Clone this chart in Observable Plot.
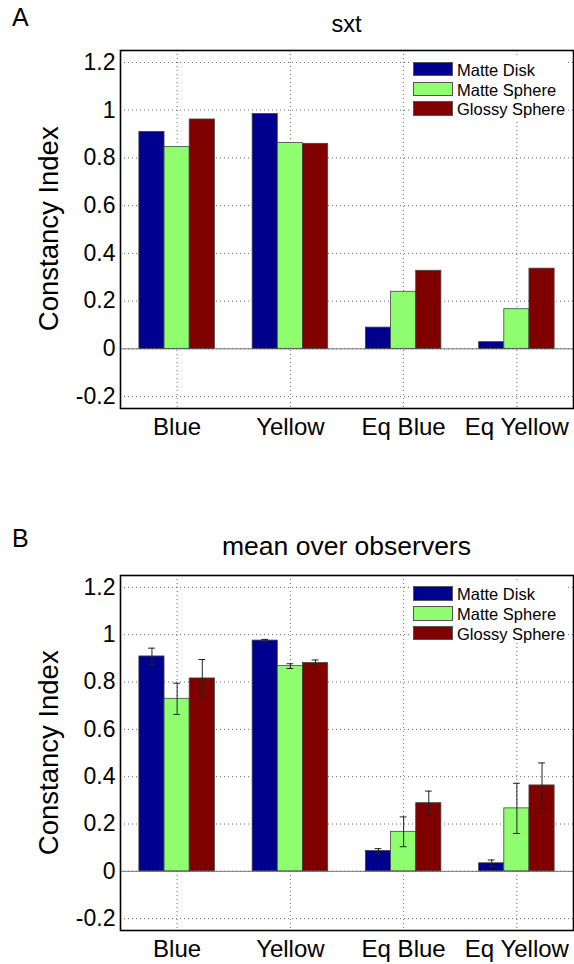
<!DOCTYPE html>
<html><head><meta charset="utf-8">
<script src="https://cdn.jsdelivr.net/npm/d3@7"></script>
<script src="https://cdn.jsdelivr.net/npm/@observablehq/plot@0.6"></script>
<style>
html,body{margin:0;padding:0;background:#fff;overflow:hidden}
#root{position:relative;width:574px;height:964px;font-family:"Liberation Sans",Arial,Helvetica,sans-serif;color:#000}
.abs{position:absolute;white-space:nowrap;line-height:1}
.plot{position:absolute;left:0}
.patch{position:absolute;box-sizing:border-box;border:1px solid #555}
</style></head><body><div id="root"></div>
<script>
// ---- data ----
const categories = ["Blue", "Yellow", "Eq Blue", "Eq Yellow"];
const series = ["Matte Disk", "Matte Sphere", "Glossy Sphere"];
const seriesColors = ["#00008f", "#8fff70", "#800000"];
const yTicks = [-0.2, 0, 0.2, 0.4, 0.6, 0.8, 1, 1.2];

// Panel A: sxt
const sxtMatteDisk    = [0.909, 0.984, 0.089, 0.028];
const sxtMatteSphere  = [0.846, 0.862, 0.239, 0.166];
const sxtGlossySphere = [0.961, 0.859, 0.327, 0.336];

// Panel B: mean over observers (with error bars)
const meanMatteDisk    = [0.908, 0.975, 0.086, 0.034];
const meanMatteSphere  = [0.729, 0.867, 0.167, 0.266];
const meanGlossySphere = [0.815, 0.880, 0.288, 0.363];
const errMatteDisk     = [0.035, 0.005, 0.010, 0.014];
const errMatteSphere   = [0.066, 0.010, 0.063, 0.106];
const errGlossySphere  = [0.080, 0.013, 0.051, 0.095];

// ---- helpers ----
const root = document.getElementById("root");
function addText(txt, left, top, fs, extra) {
  const d = document.createElement("div");
  d.className = "abs";
  d.textContent = txt;
  d.style.left = left + "px";
  d.style.top = top + "px";
  d.style.fontSize = fs + "px";
  if (extra) Object.assign(d.style, extra);
  root.appendChild(d);
  return d;
}
const BASE = 0.8465; // baseline offset (em) for line-height 1

function buildRows(valueArrays, errArrays) {
  const rows = [];
  const bw = 2 / 9; // MATLAB grouped bar width for 3 series
  valueArrays.forEach((arr, k) => {
    arr.forEach((v, i) => {
      const xc = i + 1 + (k - 1) * bw;
      rows.push({
        category: categories[i], series: series[k], value: v,
        err: errArrays ? errArrays[k][i] : 0,
        xc, x1: xc - bw / 2, x2: xc + bw / 2
      });
    });
  });
  return rows;
}

function panel(opts) {
  const {rows, withErr, svgTop, height, marginBottom, title, titleBaseline, titleSize, letter, letterBaseline, legendCenters} = opts;
  const marginTop = 10, marginLeft = 120, marginRight = 1;
  const capW = 0.03;
  const marks = [
    Plot.gridY(yTicks, {stroke: "#444", strokeOpacity: 1, strokeWidth: 0.8, strokeDasharray: "1,3"}),
    Plot.gridX([1, 2, 3, 4], {stroke: "#444", strokeOpacity: 1, strokeWidth: 0.8, strokeDasharray: "1,3"}),
    Plot.ruleY([0], {stroke: "#777", strokeWidth: 1}),
    Plot.rect(rows, {x1: "x1", x2: "x2", y1: () => 0, y2: "value", fill: "series", stroke: "#444", strokeWidth: 0.8})
  ];
  if (withErr) {
    marks.push(
      Plot.ruleX(rows, {x: "xc", y1: d => d.value - d.err, y2: d => d.value + d.err, stroke: "#222", strokeWidth: 1}),
      Plot.ruleY(rows, {y: d => d.value + d.err, x1: d => d.xc - capW, x2: d => d.xc + capW, stroke: "#222", strokeWidth: 1}),
      Plot.ruleY(rows, {y: d => d.value - d.err, x1: d => d.xc - capW, x2: d => d.xc + capW, stroke: "#222", strokeWidth: 1})
    );
  }
  marks.push(
    Plot.frame({stroke: "#000", strokeWidth: 1.6}),
    Plot.axisY(yTicks, {tickSize: 0, tickPadding: 5, fontSize: 23, label: null,
      tickFormat: d => String(+d.toFixed(1))}),
    Plot.axisX([1, 2, 3, 4], {tickSize: 0, tickPadding: 9, fontSize: 24, label: null,
      tickFormat: d => categories[d - 1]})
  );
  const chart = Plot.plot({
    width: 574, height, marginTop, marginBottom, marginLeft, marginRight,
    x: {type: "linear", domain: [0.5, 4.5]},
    y: {type: "linear", domain: [-0.25, 1.25]},
    color: {type: "ordinal", domain: series, range: seriesColors},
    style: {fontFamily: '"Liberation Sans", Arial, sans-serif', color: "#000", background: "transparent", overflow: "visible"},
    marks
  });
  chart.classList.add("plot");
  chart.style.top = svgTop + "px";
  root.appendChild(chart);

  const frameTop = svgTop + marginTop;
  const frameBottom = svgTop + height - marginBottom;

  // panel letter
  addText(letter, 12, letterBaseline - BASE * 25, 25);
  // title centered over the axes
  addText(title, marginLeft, titleBaseline - BASE * titleSize, titleSize,
    {width: (574 - marginLeft - marginRight) + "px", textAlign: "center"});
  // y label rotated
  const yfs = 27.5, cy = (frameTop + frameBottom) / 2, baseX = 59;
  const cx = baseX - (BASE - 0.5) * yfs;
  const w = 300;
  addText("Constancy Index", cx - w / 2, cy - yfs / 2, yfs,
    {width: w + "px", height: yfs + "px", textAlign: "center", transform: "rotate(-90deg)", transformOrigin: "50% 50%"});

  // legend
  const bg = document.createElement("div");
  bg.style.cssText = `position:absolute;background:#fff;left:409px;width:156px;top:${legendCenters[0] - 12}px;height:${legendCenters[2] - legendCenters[0] + 22}px`;
  root.appendChild(bg);
  series.forEach((s, k) => {
    const c = legendCenters[k];
    const p = document.createElement("div");
    p.className = "patch";
    p.style.left = "413px"; p.style.width = "40px";
    p.style.top = (c - 7.25) + "px"; p.style.height = "14.5px";
    p.style.background = seriesColors[k];
    root.appendChild(p);
    const lfs = 16.5;
    addText(s, 457, c + 6.5 - BASE * lfs, lfs);
  });
}

panel({
  rows: buildRows([sxtMatteDisk, sxtMatteSphere, sxtGlossySphere], null),
  withErr: false, svgTop: 40, height: 410, marginBottom: 42,
  title: "sxt", titleBaseline: 32.7, titleSize: 23.5,
  letter: "A", letterBaseline: 26,
  legendCenters: [69, 89, 108.5]
});
panel({
  rows: buildRows([meanMatteDisk, meanMatteSphere, meanGlossySphere], [errMatteDisk, errMatteSphere, errGlossySphere]),
  withErr: true, svgTop: 565, height: 399, marginBottom: 34,
  title: "mean over observers", titleBaseline: 555.7, titleSize: 26.5,
  letter: "B", letterBaseline: 547,
  legendCenters: [593.5, 613.5, 633]
});
</script></body></html>
